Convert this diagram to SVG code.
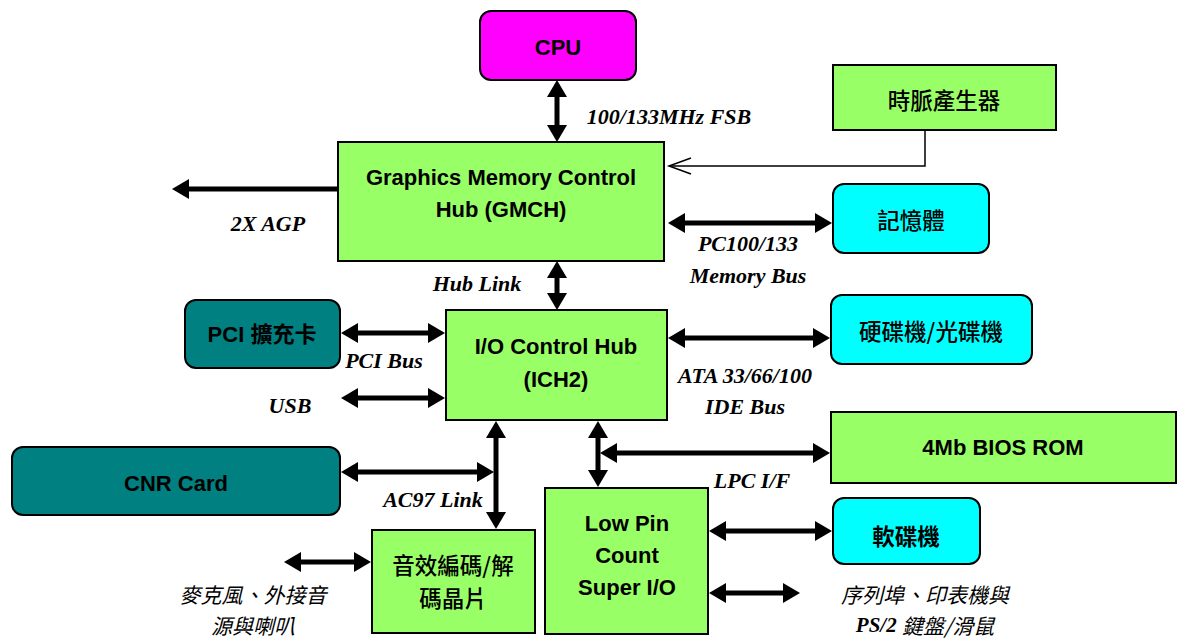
<svg xmlns="http://www.w3.org/2000/svg" width="1188" height="638" viewBox="0 0 1188 638">
<defs>
<marker id="ah" viewBox="0 -10 17 20" markerWidth="17" markerHeight="20" refX="0" refY="0" markerUnits="userSpaceOnUse" orient="auto-start-reverse">
<path d="M0,-10 L17,0 L0,10 z" fill="#000"/>
</marker>
<style>
.box{stroke:#000;stroke-width:2}
.g{fill:#99FF66}.t{fill:#008080}.c{fill:#00FFFF}.m{fill:#FF00FF}
.nt{font-family:"Liberation Sans","Noto Sans CJK TC",sans-serif;font-weight:bold;font-size:22px;fill:#000;text-anchor:middle;dominant-baseline:central}
.cj{font-family:"Noto Sans CJK TC",sans-serif;font-size:22.5px;font-weight:500;fill:#000;text-anchor:middle;dominant-baseline:central}
.cjb{font-weight:bold}
.lb{font-family:"Liberation Serif","Noto Sans CJK TC",serif;font-weight:bold;font-style:italic;font-size:22px;fill:#000;text-anchor:middle;dominant-baseline:central}
.lc{font-family:"Noto Sans CJK TC",sans-serif;font-style:italic;font-size:21px;fill:#000;text-anchor:middle;dominant-baseline:central}
.ar{stroke:#000;stroke-width:5;fill:none;marker-start:url(#ah);marker-end:url(#ah)}
.ar1{stroke:#000;stroke-width:5;fill:none;marker-end:url(#ah)}
.thin{stroke:#000;stroke-width:1.5;fill:none}
</style>
</defs>
<g id="connectors">
<line class="ar" x1="557" y1="97" x2="557" y2="125"/>
<line class="ar" x1="557" y1="278" x2="557" y2="293"/>
<line class="ar1" x1="338" y1="189" x2="189" y2="189"/>
<line class="ar" x1="685" y1="223" x2="815" y2="223"/>
<polyline class="thin" points="925,131 925,166 669,166"/>
<polyline class="thin" points="691,158 669,166 691,174"/>
<line class="ar" x1="358" y1="333" x2="428" y2="333"/>
<line class="ar" x1="358" y1="398" x2="428" y2="398"/>
<line class="ar" x1="685" y1="338" x2="813" y2="338"/>
<line class="ar" x1="496" y1="438" x2="496" y2="512"/>
<line class="ar" x1="358" y1="472" x2="477" y2="472"/>
<line class="ar" x1="301" y1="562" x2="354" y2="562"/>
<line class="ar" x1="598" y1="438" x2="598" y2="470"/>
<line class="ar" x1="617" y1="453" x2="813" y2="453"/>
<line class="ar" x1="726" y1="531" x2="815" y2="531"/>
<line class="ar" x1="726" y1="593" x2="783" y2="593"/>
</g>
<g id="labels">
<text class="lb" x="669" y="116">100/133MHz FSB</text>
<text class="lb" x="268" y="223">2X AGP</text>
<text class="lb" x="477" y="283">Hub Link</text>
<text class="lb" x="748" y="243">PC100/133</text>
<text class="lb" x="748" y="275">Memory Bus</text>
<text class="lb" x="384" y="360">PCI Bus</text>
<text class="lb" x="290" y="405">USB</text>
<text class="lb" x="745" y="375">ATA 33/66/100</text>
<text class="lb" x="745" y="406">IDE Bus</text>
<text class="lb" x="752" y="480">LPC I/F</text>
<text class="lb" x="433" y="499">AC97 Link</text>
<text class="lc" x="253" y="594">麥克風、外接音</text>
<text class="lc" x="253" y="625">源與喇叭</text>
<text class="lc" x="925" y="594">序列埠、印表機與</text>
<text class="lc" x="925" y="625"><tspan font-family="Liberation Serif" font-weight="bold" font-size="21">PS/2 </tspan>鍵盤/滑鼠</text>
</g>
<g id="cpu"><rect class="box m" x="480" y="11" width="156" height="69" rx="11"/><text class="nt" x="558" y="47">CPU</text></g>
<g id="gmch"><rect class="box g" x="338" y="142" width="326" height="119"/><text class="nt" x="501" y="177">Graphics Memory Control</text><text class="nt" x="501" y="209">Hub (GMCH)</text></g>
<g id="clock"><rect class="box g" x="833" y="65" width="223" height="65"/><text class="cj" x="944" y="99">時脈產生器</text></g>
<g id="memory"><rect class="box c" x="833" y="184" width="156" height="69" rx="11"/><text class="cj" x="911" y="219">記憶體</text></g>
<g id="pci"><rect class="box t" x="185" y="300" width="155" height="68" rx="11"/><text class="nt" x="262" y="334">PCI 擴充卡</text></g>
<g id="ich2"><rect class="box g" x="446" y="310" width="221" height="110"/><text class="nt" x="556" y="346">I/O Control Hub</text><text class="nt" x="556" y="379">(ICH2)</text></g>
<g id="hdd"><rect class="box c" x="831" y="295" width="201" height="69" rx="11"/><text class="cj" x="931" y="330">硬碟機/光碟機</text></g>
<g id="bios"><rect class="box g" x="831" y="412" width="345" height="71"/><text class="nt" x="1003" y="447">4Mb BIOS ROM</text></g>
<g id="cnr"><rect class="box t" x="12" y="447" width="328" height="68" rx="11"/><text class="nt" x="176" y="483">CNR Card</text></g>
<g id="codec"><rect class="box g" x="372" y="530" width="163" height="103"/><text class="cj" x="453" y="564">音效編碼/解</text><text class="cj" x="453" y="597">碼晶片</text></g>
<g id="superio"><rect class="box g" x="545" y="488" width="163" height="146"/><text class="nt" x="627" y="523">Low Pin</text><text class="nt" x="627" y="555">Count</text><text class="nt" x="627" y="587">Super I/O</text></g>
<g id="floppy"><rect class="box c" x="833" y="498" width="147" height="66" rx="11"/><text class="cj cjb" x="906" y="535">軟碟機</text></g>
</svg>
